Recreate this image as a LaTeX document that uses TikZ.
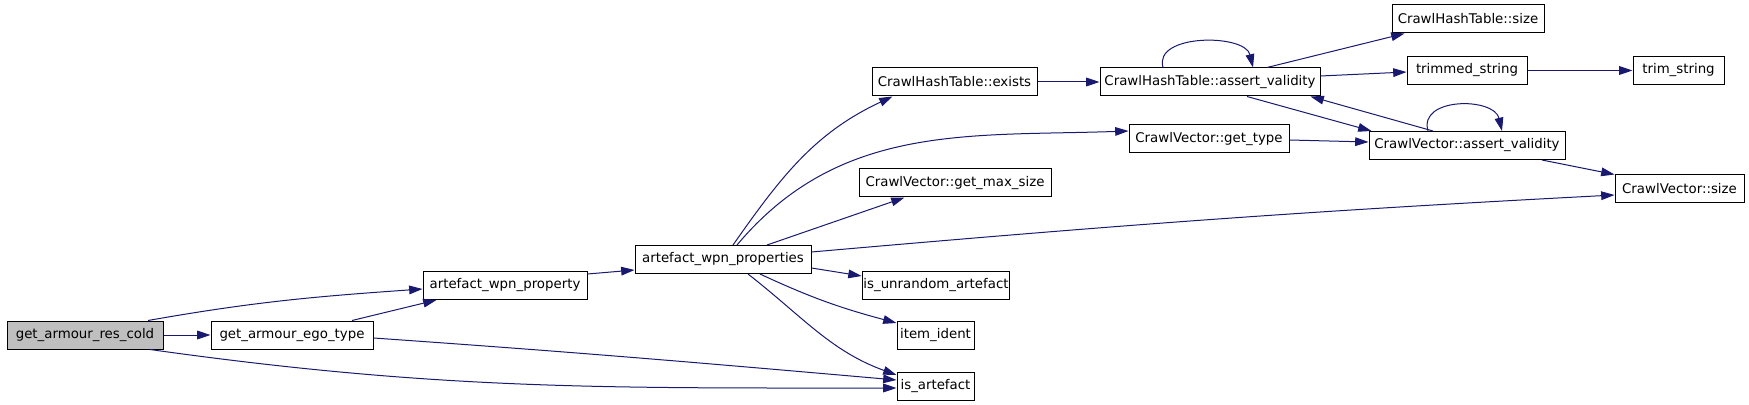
\documentclass[tikz,border=0pt]{standalone}
\usepackage{fontspec}
\newfontfamily\graphfont{DejaVu Sans}
\usetikzlibrary{calc,arrows.meta}
\definecolor{edgeblue}{HTML}{191970}
\definecolor{rootgray}{HTML}{BFBFBF}

\begin{document}
\begin{tikzpicture}[x=0.75pt,y=0.75pt,
    fn/.style={draw,line width=0.75pt,minimum height=21pt,inner xsep=1pt,inner ysep=0pt,
      font=\graphfont\fontsize{10pt}{12pt}\selectfont},
    call/.style={draw=edgeblue,line width=0.75pt,-{Triangle[length=10pt,width=6.5pt]}}]
      \fill[white,use as bounding box] (0,0) rectangle (1749,404);

      \node[fn,fill=rootgray,minimum width=117pt] (cold) at (85,69) {get\_armour\_res\_cold};
      \node[fn,minimum width=121.5pt] (ego) at (292,69) {get\_armour\_ego\_type};
      \node[fn,minimum width=123pt] (property) at (505,118.5) {artefact\_wpn\_property};
      \node[fn,minimum width=132pt] (properties) at (723,144.5) {artefact\_wpn\_properties};
      \node[fn,minimum width=123.75pt] (exists) at (954.5,322) {CrawlHashTable::exists};
      \node[fn,minimum width=165pt] (htvalid) at (1210,322) {CrawlHashTable::assert\_validity};
      \node[fn,minimum width=120pt] (gettype) at (1209,265) {CrawlVector::get\_type};
      \node[fn,minimum width=144pt] (maxsize) at (955,221) {CrawlVector::get\_max\_size};
      \node[fn,minimum width=114pt] (htsize) at (1468,385) {CrawlHashTable::size};
      \node[fn,minimum width=90pt] (trimmed) at (1467,333.5) {trimmed\_string};
      \node[fn,minimum width=68.25pt] (trim) at (1678.5,333.5) {trim\_string};
      \node[fn,minimum width=147pt] (vecvalid) at (1467,258.5) {CrawlVector::assert\_validity};
      \node[fn,minimum width=96.75pt] (vecsize) at (1679.5,215) {CrawlVector::size};
      \node[fn,minimum width=105pt] (unrandom) at (936,119) {is\_unrandom\_artefact};
      \node[fn,minimum width=57.75pt] (ident) at (935.5,69) {item\_ident};
      \node[fn,minimum width=57.75pt] (isart) at (935.5,18) {is\_artefact};

      \draw[call] ($(cold.north)+(63,0)$) to[out=10,in=184] ($(property.west)+(0,-3.5)$);
      \draw[call] (cold) -- (ego);
      \draw[call] ($(cold.south)+(65,0)$) to[out=-8,in=180] ($(isart.west)+(0,-2)$);
      \draw[call] ($(ego.north)+(60,0)$) -- ($(property.south west)+(14,0)$);
      \draw[call] ($(ego.east)+(0,-3)$) to[out=-4,in=175] ($(isart.west)+(0,6)$);
      \draw[call] ($(property.east)+(0,11.5)$) -- ($(properties.west)+(0,-10.5)$);

      \draw[call] ($(properties.north)+(10,0)$) to[out=55,in=205] ($(exists.south west)+(21,0)$);
      \draw[call] ($(properties.north)+(14,0)$) to[out=50,in=182] ($(gettype.west)+(0,8)$);
      \draw[call] ($(properties.north)+(44,0)$) -- ($(maxsize.south west)+(46,0)$);
      \draw[call] ($(properties.east)+(0,7.5)$) to[out=5,in=183] ($(vecsize.west)+(0,-6)$);
      \draw[call] ($(properties.east)+(0,-8.5)$) -- ($(unrandom.west)+(0,9)$);
      \draw[call] ($(properties.south)+(37,0)$) to[out=-25,in=165] ($(ident.west)+(0,12)$);
      \draw[call] ($(properties.south)+(25,0)$) to[out=-38,in=160] ($(isart.west)+(0,11)$);

      \draw[call] (exists) -- (htvalid);
      \draw[call] ($(htvalid.north)+(-47,0)$) .. controls +(-10,34) and +(-8,34) .. ($(htvalid.north)+(43,0)$);
      \draw[call] ($(htvalid.north)+(57,0)$) -- ($(htsize.south west)+(13,0)$);
      \draw[call] ($(htvalid.east)+(0,6)$) -- ($(trimmed.west)+(0,-1.5)$);
      \draw[call] ($(htvalid.south)+(37,0)$) -- ($(vecvalid.north west)+(3,0)$);
      \draw[call] ($(gettype.east)+(0,-1)$) -- ($(vecvalid.west)+(0,3.5)$);
      \draw[call] ($(vecvalid.north)+(-34,0)$) -- ($(htvalid.south east)+(-10,0)$);
      \draw[call] ($(vecvalid.north)+(-39,0)$) .. controls +(-10,34) and +(-8,34) .. ($(vecvalid.north)+(35,0)$);
      \draw[call] ($(vecvalid.south)+(75,0)$) -- (vecsize.north west);
      \draw[call] (trimmed) -- (trim);
    \end{tikzpicture}
\end{document}
